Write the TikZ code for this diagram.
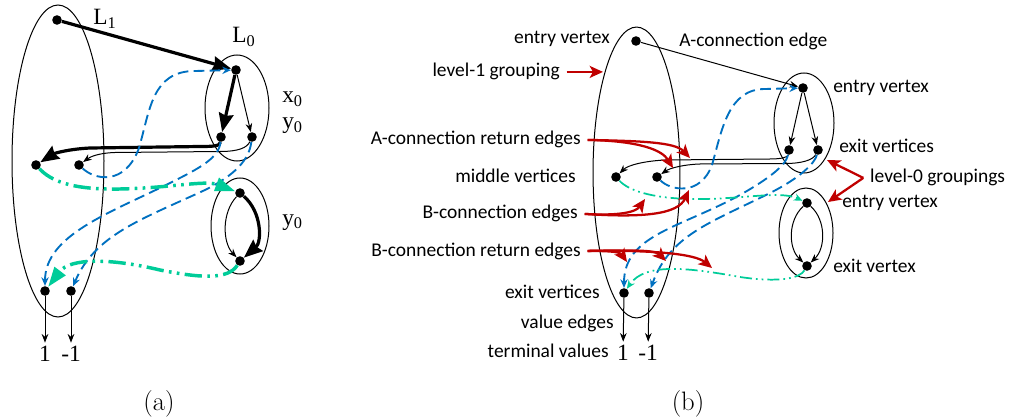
\documentclass[tikz,border=0pt]{standalone}
\usepackage{fontspec}
\newfontfamily\calfont{Carlito}
\newfontfamily\tnrfont{Liberation Serif}
\usetikzlibrary{arrows.meta}
\definecolor{bl}{RGB}{0,112,192}
\definecolor{gr}{RGB}{0,204,153}
\definecolor{rd}{RGB}{192,0,0}
\begin{document}
\begin{tikzpicture}[x=0.75pt,y=-0.75pt,
 vtx/.style={circle,fill=black,inner sep=0pt,minimum size=7.2pt},
 thinarr/.style={line width=0.75pt,-{Stealth[length=6.5pt,width=5pt]}},
 thickarr/.style={line width=2.4pt,-{Stealth[length=14pt,width=11pt,inset=1.5pt]}},
 grp/.style={line width=0.75pt},
 bd/.style={bl,line width=1.4pt,dash pattern=on 8pt off 4pt,-{Stealth[length=6.5pt,width=5.5pt]}},
 gtA/.style={gr,line width=2.6pt,dash pattern=on 13pt off 4pt on 2pt off 4pt on 2pt off 4pt,-{Triangle[length=15pt,width=10pt]}},
 gtB/.style={gr,line width=1.3pt,dash pattern=on 9pt off 3pt on 1.3pt off 3pt on 1.3pt off 3pt,-{Stealth[length=6.5pt,width=5.5pt]}},
 rarr/.style={rd,line width=1.7pt,-{Stealth[length=10pt,width=9pt,inset=2.5pt]}},
 lblA/.style={font=\tnrfont\fontsize{17.5}{20}\selectfont,inner sep=0pt},
 lblB/.style={font=\calfont\fontsize{14.6}{17}\selectfont,inner sep=0pt},
 captxt/.style={font=\fontsize{20}{24}\selectfont,inner sep=0pt},
]
\useasboundingbox (0,0) rectangle (1010,417);

% ===================== panel (a) =====================
\draw[grp] (58,161) ellipse [x radius=34.5pt, y radius=117pt];
\draw[grp] (237,108) ellipse [x radius=24pt, y radius=39.75pt];
\draw[grp] (240,226) ellipse [x radius=21.75pt, y radius=36pt];

\node[vtx] (a-L1e) at (57,20) {};
\node[vtx] (a-L0e) at (236,70) {};
\node[vtx] (a-L0x1) at (221,137) {};
\node[vtx] (a-L0x2) at (252,137) {};
\node[vtx] (a-m1) at (36,165) {};
\node[vtx] (a-m2) at (79,165) {};
\node[vtx] (a-Ye) at (240,193) {};
\node[vtx] (a-Yx) at (240,261) {};
\node[vtx] (a-o1) at (45,291) {};
\node[vtx] (a-o2) at (71,291) {};
\node[lblA,anchor=base,inner sep=2pt] (a-t1) at (45,361) {1};
\node[lblA,anchor=base,inner sep=2pt] (a-t2) at (71,361) {-1};

\node[lblA,anchor=base west] (a-lL1) at (93,25) {L\textsubscript{1}};
\node[lblA,anchor=base west] (a-lL0) at (232,43) {L\textsubscript{0}};
\node[lblA,anchor=base west] (a-lx0) at (282,103) {x\textsubscript{0}};
\node[lblA,anchor=base west] (a-ly0) at (282,129) {y\textsubscript{0}};
\node[lblA,anchor=base west] (a-ly0b) at (282,225) {y\textsubscript{0}};
\node[captxt,anchor=base] (capa) at (159,410) {(a)};

\draw[thickarr] (a-L1e) -- (a-L0e);
\draw[thickarr] (a-L0e) -- (a-L0x1);
\draw[thinarr] (a-L0e) -- (a-L0x2);
\draw[thickarr] (a-L0x1) .. controls (220,146) and (214,146.5) .. (200,146.5) -- (90,148) .. controls (70,149) and (55,153) .. (a-m1);
\draw[thinarr] (a-L0x2) .. controls (247,148) and (238,151.5) .. (220,151.5) -- (115,152.5) .. controls (98,153) and (90,157) .. (a-m2);
\draw[thickarr] (a-Ye) .. controls (262,212) and (262,242) .. (a-Yx);
\draw[thinarr] (a-Ye) .. controls (222,212) and (222,242) .. (a-Yx);

\draw[bd] (a-m2) .. controls (95,180) and (125,186) .. (139,148) .. controls (150,110) and (152,71) .. (195,71) -- (a-L0e);
\draw[bd] (a-L0x1) .. controls (219,158) and (200,168) .. (170,183) .. controls (110,213) and (45,235) .. (a-o1);
\draw[bd] (a-L0x2) .. controls (249,160) and (235,175) .. (205,190) .. controls (140,220) and (95,235) .. (a-o2);

\draw[gtA] (a-m1) .. controls (50,180) and (70,190) .. (120,189) .. controls (170,188) and (205,180) .. (a-Ye);
\draw[gtA] (a-Yx) .. controls (228,280) and (200,278) .. (160,270) .. controls (110,258) and (70,258) .. (a-o1);

\draw[thinarr] (a-o1) -- (a-t1);
\draw[thinarr] (a-o2) -- (a-t2);

% ===================== panel (b) =====================
\draw[grp] (636.5,172.5) ellipse [x radius=32.6pt, y radius=109.1pt];
\draw[grp] (804,123) ellipse [x radius=22.5pt, y radius=37.5pt];
\draw[grp] (806,233) ellipse [x radius=20.25pt, y radius=33.75pt];

\node[vtx] (b-L1e) at (636,41) {};
\node[vtx] (b-L0e) at (803,88) {};
\node[vtx] (b-L0x1) at (789,150) {};
\node[vtx] (b-L0x2) at (818,150) {};
\node[vtx] (b-m1) at (616,177) {};
\node[vtx] (b-m2) at (657,177) {};
\node[vtx] (b-Ye) at (807,203) {};
\node[vtx] (b-Yx) at (807,266) {};
\node[vtx] (b-o1) at (624,293) {};
\node[vtx] (b-o2) at (649,293) {};
\node[lblA,anchor=base,inner sep=2pt] (b-t1) at (623,360) {1};
\node[lblA,anchor=base,inner sep=2pt] (b-t2) at (648,360) {-1};
\node[captxt,anchor=base] (capb) at (688,410) {(b)};

\node[lblB,anchor=base east] (tb1) at (610,44) {entry vertex};
\node[lblB,anchor=base east] (tb2) at (576,183) {middle vertices};
\node[lblB,anchor=base east] (tb3) at (600,298) {exit vertices};
\node[lblB,anchor=base east] (tb4) at (614,328) {value edges};
\node[lblB,anchor=base east] (tb5) at (609,357) {terminal values};
\node[lblB,anchor=base west] (tb6) at (679,47) {A-connection edge};
\node[lblB,anchor=base west] (tb7) at (833,93) {entry vertex};
\node[lblB,anchor=base west] (tb8) at (839,153) {exit vertices};
\node[lblB,anchor=base west] (tb9) at (842,207) {entry vertex};
\node[lblB,anchor=base west] (tb10) at (833,272) {exit vertex};

\node[lblB,inner sep=5pt,anchor=base east] (r-l1) at (566.7,77) {level-1 grouping};
\node[lblB,inner sep=5pt,anchor=base east] (r-ar) at (587.7,145) {A-connection return edges};
\node[lblB,inner sep=5pt,anchor=base east] (r-be) at (584.7,219) {B-connection edges};
\node[lblB,inner sep=5pt,anchor=base east] (r-br) at (587.7,256) {B-connection return edges};
\node[lblB,inner sep=5pt,anchor=base west] (r-l0) at (863.3,183) {level-0 groupings};

\draw[thinarr] (b-L1e) -- (b-L0e);
\draw[thinarr] (b-L0e) -- (b-L0x1);
\draw[thinarr] (b-L0e) -- (b-L0x2);
\draw[thinarr] (b-L0x1) .. controls (788,157) and (782,159) .. (770,159) -- (665,160) .. controls (645,161) and (628,165) .. (b-m1);
\draw[thinarr] (b-L0x2) .. controls (813,160) and (802,163.5) .. (785,163.5) -- (700,164) .. controls (684,164.5) and (670,168) .. (b-m2);
\draw[thinarr] (b-Ye) .. controls (826,220) and (826,248) .. (b-Yx);
\draw[thinarr] (b-Ye) .. controls (788,220) and (788,248) .. (b-Yx);

\draw[bd] (b-m2) .. controls (670,190) and (700,197) .. (712,165) .. controls (722,130) and (728,89) .. (765,89) -- (b-L0e);
\draw[bd] (b-L0x1) .. controls (786,165) and (770,178) .. (740,195) .. controls (680,228) and (624,235) .. (b-o1);
\draw[bd] (b-L0x2) .. controls (815,163) and (800,178) .. (770,193) .. controls (710,223) and (670,235) .. (b-o2);

\draw[gtB] (b-m1) .. controls (628,190) and (650,198) .. (690,199) .. controls (740,200) and (780,190) .. (b-Ye);
\draw[gtB] (b-Yx) .. controls (800,278) and (780,283) .. (740,277) .. controls (690,268) and (645,262) .. (b-o1);

\draw[thinarr] (b-o1) -- (b-t1);
\draw[thinarr] (b-o2) -- (b-t2);

% red annotation arrows
\coordinate (c-l1) at (603,70);
\coordinate (c-ar1) at (673,168);
\coordinate (c-ar2) at (690,158);
\coordinate (c-be1) at (645,199);
\coordinate (c-be2) at (689,190);
\coordinate (c-br1) at (627,262);
\coordinate (c-br2) at (666,261);
\coordinate (c-br3) at (712,268);
\coordinate (c-l01) at (827,160);
\coordinate (c-l02) at (828,202);

\draw[rarr] (r-l1.east) -- (r-l1.east -| c-l1);
\draw[rarr] (r-ar.east) .. controls (640,141) and (662,150) .. (c-ar1);
\draw[rarr] (r-ar.east) .. controls (640,141) and (675,142) .. (c-ar2);
\draw[rarr] (r-be.east) .. controls (620,216) and (636,212) .. (c-be1);
\draw[rarr] (r-be.east) .. controls (645,218) and (678,214) .. (c-be2);
\draw[rarr] (r-br.east) .. controls (612,251) and (620,252) .. (c-br1);
\draw[rarr] (r-br.east) .. controls (635,250) and (655,250) .. (c-br2);
\draw[rarr] (r-br.east) .. controls (655,250) and (695,254) .. (c-br3);
\draw[rarr] (r-l0.west) -- (c-l01);
\draw[rarr] (r-l0.west) -- (c-l02);
\end{tikzpicture}
\end{document}
